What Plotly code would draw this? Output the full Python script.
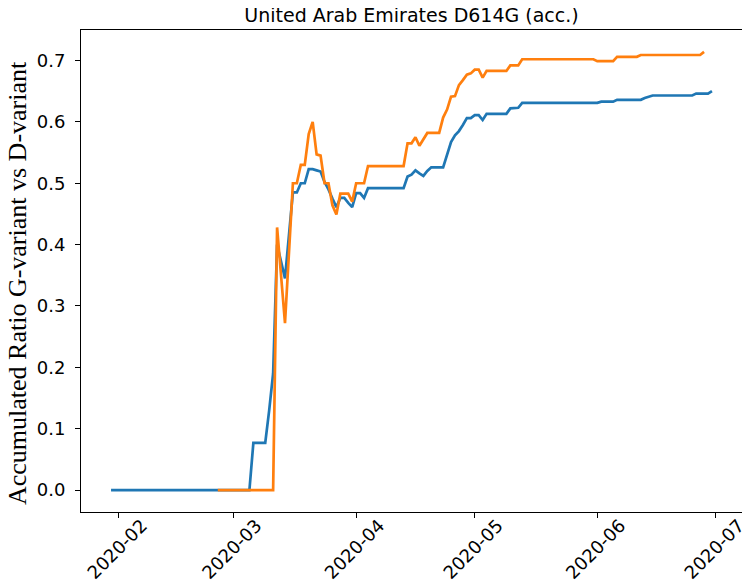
import plotly.graph_objects as go

# Vertices of the blue series (date, accumulated ratio)
blue_dates = [
    "2020-01-30", "2020-03-05", "2020-03-06", "2020-03-09", "2020-03-10", "2020-03-11",
    "2020-03-12", "2020-03-14", "2020-03-16", "2020-03-17", "2020-03-18", "2020-03-19",
    "2020-03-20", "2020-03-21", "2020-03-22", "2020-03-23", "2020-03-24", "2020-03-25",
    "2020-03-26", "2020-03-27", "2020-03-28", "2020-03-29", "2020-03-30", "2020-03-31",
    "2020-04-01", "2020-04-02", "2020-04-03", "2020-04-04", "2020-04-13", "2020-04-14",
    "2020-04-15", "2020-04-16", "2020-04-17", "2020-04-18", "2020-04-19", "2020-04-20",
    "2020-04-23", "2020-04-24", "2020-04-25", "2020-04-26", "2020-04-27", "2020-04-28",
    "2020-04-29", "2020-04-30", "2020-05-01", "2020-05-02", "2020-05-03", "2020-05-04",
    "2020-05-09", "2020-05-10", "2020-05-12", "2020-05-13", "2020-06-01", "2020-06-02",
    "2020-06-05", "2020-06-06", "2020-06-12", "2020-06-13", "2020-06-14", "2020-06-15",
    "2020-06-25", "2020-06-26", "2020-06-29", "2020-06-30",
]
blue_values = [
    0.0, 0.0, 0.077, 0.077, 0.13, 0.19,
    0.40, 0.345, 0.485, 0.485, 0.50, 0.50,
    0.523, 0.523, 0.521, 0.519, 0.502, 0.49,
    0.475, 0.461, 0.476, 0.476, 0.468, 0.461,
    0.484, 0.484, 0.476, 0.492, 0.492, 0.511,
    0.514, 0.521, 0.516, 0.512, 0.52, 0.526,
    0.526, 0.548, 0.567, 0.578, 0.585, 0.595,
    0.606, 0.606, 0.611, 0.611, 0.603, 0.613,
    0.613, 0.622, 0.623, 0.631, 0.631, 0.633,
    0.633, 0.636, 0.636, 0.639, 0.641, 0.643,
    0.643, 0.646, 0.646, 0.650,
]

# Vertices of the orange series
orange_dates = [
    "2020-02-26", "2020-03-11", "2020-03-12", "2020-03-14", "2020-03-16", "2020-03-17",
    "2020-03-18", "2020-03-19", "2020-03-20", "2020-03-21", "2020-03-22", "2020-03-23",
    "2020-03-24", "2020-03-25", "2020-03-26", "2020-03-27", "2020-03-28", "2020-03-30",
    "2020-03-31", "2020-04-01", "2020-04-03", "2020-04-04", "2020-04-13", "2020-04-14",
    "2020-04-15", "2020-04-16", "2020-04-17", "2020-04-18", "2020-04-19", "2020-04-22",
    "2020-04-23", "2020-04-24", "2020-04-25", "2020-04-26", "2020-04-27", "2020-04-28",
    "2020-04-29", "2020-04-30", "2020-05-01", "2020-05-02", "2020-05-03", "2020-05-04",
    "2020-05-09", "2020-05-10", "2020-05-12", "2020-05-13", "2020-05-31", "2020-06-01",
    "2020-06-05", "2020-06-06", "2020-06-11", "2020-06-12", "2020-06-27", "2020-06-28",
]
orange_values = [
    0.0, 0.0, 0.428, 0.272, 0.50, 0.50,
    0.53, 0.53, 0.58, 0.60, 0.547, 0.545,
    0.50, 0.50, 0.464, 0.449, 0.483, 0.483,
    0.47, 0.50, 0.50, 0.528, 0.528, 0.565,
    0.565, 0.575, 0.561, 0.572, 0.582, 0.582,
    0.607, 0.62, 0.641, 0.642, 0.66, 0.668,
    0.677, 0.679, 0.685, 0.685, 0.672, 0.683,
    0.683, 0.692, 0.692, 0.702, 0.702, 0.699,
    0.699, 0.706, 0.706, 0.709, 0.709, 0.714,
]

y_ticks = [0.0, 0.1, 0.2, 0.3, 0.4, 0.5, 0.6, 0.7]
x_ticks = ["2020-02-01", "2020-03-01", "2020-04-01", "2020-05-01", "2020-06-01", "2020-07-01"]
x_tick_labels = ["2020-02", "2020-03", "2020-04", "2020-05", "2020-06", "2020-07"]

title_text = "United Arab Emirates D614G (acc.)"
y_title = "Accumulated Ratio G-variant vs D-variant"

# The page body has an 8px margin; the figure is sized so that it fills the
# remaining 742x579 area of the 750x587 window.
fig = go.Figure()
fig.add_trace(go.Scatter(x=blue_dates, y=blue_values, mode="lines",
                         line=dict(color="#1f77b4", width=2.7), showlegend=False))
fig.add_trace(go.Scatter(x=orange_dates, y=orange_values, mode="lines",
                         line=dict(color="#ff7f0e", width=2.7), showlegend=False))

fig.update_layout(
    width=742, height=579,
    margin=dict(l=73, r=8, t=22, b=75, autoexpand=False),
    paper_bgcolor="white", plot_bgcolor="white",
    font=dict(family="DejaVu Sans", color="black"),
    title=dict(text=title_text, x=(73 + 734) / 2 / 742, xanchor="center",
               y=1 - 7 / 579, yanchor="middle",
               font=dict(family="DejaVu Sans", size=19, color="black")),
    annotations=[dict(
        text=y_title, textangle=-90, showarrow=False,
        xref="paper", yref="paper", x=-64 / 661, y=0.475,
        xanchor="center", yanchor="middle",
        font=dict(family="Liberation Serif", size=26, color="black"),
    )],
)
fig.update_xaxes(
    type="date", automargin=False,
    range=["2020-01-22 09:36", "2020-07-07 14:24"],
    tickvals=x_ticks, ticktext=x_tick_labels,
    tickangle=-45, ticks="outside", ticklen=5, tickwidth=1, tickcolor="black",
    tickfont=dict(family="DejaVu Sans", size=18, color="black"),
    ticklabelshift=23, ticklabelstandoff=-10, ticklabeloverflow="allow",
    showline=True, linecolor="black", linewidth=1, mirror=True,
    showgrid=False, zeroline=False,
)
fig.update_yaxes(
    automargin=False,
    range=[-0.0357, 0.7497],
    tickvals=y_ticks, tickformat=".1f",
    ticks="outside", ticklen=5, tickwidth=1, tickcolor="black",
    tickfont=dict(family="DejaVu Sans", size=18, color="black"),
    ticklabelstandoff=6,
    showline=True, linecolor="black", linewidth=1, mirror=True,
    showgrid=False, zeroline=False,
)

fig.write_html("out.html")
